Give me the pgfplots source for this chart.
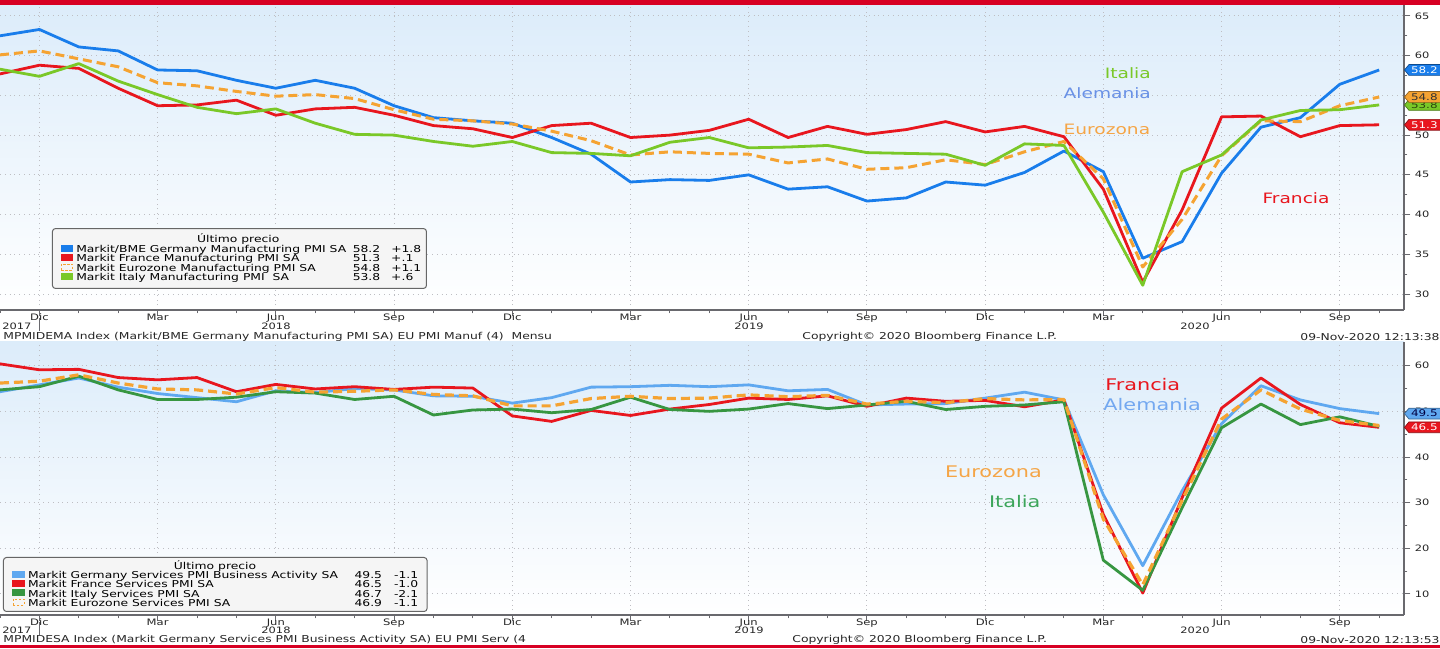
\documentclass[border=0pt]{standalone}
\usepackage{fontspec}
\setmainfont{DejaVu Sans}[FakeStretch=1.3]
\usepackage{pgfplots}
\usepackage{pgfplotstable}
\pgfplotsset{compat=1.18}
\usetikzlibrary{shapes.symbols}

\definecolor{bbred}{RGB}{215,0,35}
\definecolor{deblue}{RGB}{25,125,235}
\definecolor{frred}{RGB}{232,22,30}
\definecolor{ezorange}{RGB}{245,163,50}
\definecolor{itgreen}{RGB}{122,200,40}
\definecolor{deblue2}{RGB}{95,168,240}
\definecolor{itgreen2}{RGB}{55,150,65}
\definecolor{bgtop}{RGB}{220,236,250}
\definecolor{gridc}{RGB}{190,190,195}
\definecolor{axisc}{RGB}{105,105,110}
\definecolor{annblue}{RGB}{105,145,230}
\definecolor{annblue2}{RGB}{115,168,240}
\definecolor{annorange}{RGB}{245,165,70}
\definecolor{anngreen2}{RGB}{60,165,90}

\newcommand{\fs}[1]{\fontsize{#1}{#1}\selectfont}

\pgfplotstableread{
m de fr ez it
0 62.5 57.7 60.1 58.3
1 63.3 58.8 60.6 57.4
2 61.1 58.4 59.6 59.0
3 60.6 55.9 58.6 56.8
4 58.2 53.7 56.6 55.1
5 58.1 53.8 56.2 53.5
6 56.9 54.4 55.5 52.7
7 55.9 52.5 54.9 53.3
8 56.9 53.3 55.1 51.5
9 55.9 53.5 54.6 50.1
10 53.7 52.5 53.2 50.0
11 52.2 51.2 52.0 49.2
12 51.8 50.8 51.8 48.6
13 51.5 49.7 51.4 49.2
14 49.7 51.2 50.5 47.8
15 47.6 51.5 49.3 47.7
16 44.1 49.7 47.5 47.4
17 44.4 50.0 47.9 49.1
18 44.3 50.6 47.7 49.7
19 45.0 52.0 47.6 48.4
20 43.2 49.7 46.5 48.5
21 43.5 51.1 47.0 48.7
22 41.7 50.1 45.7 47.8
23 42.1 50.7 45.9 47.7
24 44.1 51.7 46.9 47.6
25 43.7 50.4 46.3 46.2
26 45.3 51.1 47.9 48.9
27 48.0 49.8 49.2 48.7
28 45.4 43.2 44.5 40.3
29 34.5 31.5 33.4 31.1
30 36.6 40.6 39.4 45.4
31 45.2 52.3 47.4 47.5
32 51.0 52.4 51.8 51.9
33 52.2 49.8 51.7 53.1
34 56.4 51.2 53.7 53.2
35 58.2 51.3 54.8 53.8
}\manuf

\pgfplotstableread{
m de fr it ez
0 54.3 60.4 54.7 56.2
1 55.8 59.1 55.4 56.6
2 57.3 59.2 57.7 58.0
3 55.3 57.4 54.7 56.2
4 53.9 56.9 52.6 54.9
5 53.0 57.4 52.6 54.7
6 52.1 54.3 53.1 53.8
7 54.5 55.9 54.3 55.2
8 54.1 54.9 54.0 54.2
9 55.0 55.4 52.6 54.4
10 54.7 54.8 53.3 54.7
11 53.4 55.3 49.2 53.7
12 53.3 55.1 50.3 53.4
13 51.8 49.0 50.5 51.2
14 53.0 47.8 49.7 51.2
15 55.3 50.2 50.4 52.8
16 55.4 49.1 53.1 53.3
17 55.7 50.5 50.4 52.8
18 55.4 51.5 50.0 52.9
19 55.8 52.9 50.5 53.6
20 54.5 52.6 51.7 53.2
21 54.8 53.4 50.6 53.5
22 51.4 51.1 51.4 51.6
23 51.6 52.9 52.2 52.2
24 51.7 52.2 50.4 51.9
25 52.9 52.4 51.1 52.8
26 54.2 51.0 51.4 52.5
27 52.5 52.5 52.1 52.6
28 31.7 27.4 17.4 26.4
29 16.2 10.2 10.8 12.0
30 32.6 31.1 28.9 30.5
31 47.3 50.7 46.4 48.3
32 55.6 57.3 51.6 54.7
33 52.5 51.5 47.1 50.5
34 50.6 47.5 48.8 48.0
35 49.5 46.5 46.7 46.9
}\serv

\tikzset{
  tag/.style={shape=signal, signal to=west, signal pointer angle=100, fill=#1, draw=#1!60!black,
    line width=0.35pt, inner xsep=1pt, inner ysep=0.4pt, minimum height=5.4pt, text width=22pt,
    font=\fs{4.6}, anchor=west},
}
\pgfplotsset{
  bb/.style={
    scale only axis, width=702pt, xmin=0, xmax=35.63,
    axis x line*=bottom, axis y line*=right,
    axis line style={draw=axisc, line width=0.6pt},
    xtick={1,4,...,34},
    xticklabels={Dic,Mar,Jun,Sep,Dic,Mar,Jun,Sep,Dic,Mar,Jun,Sep},
    minor xtick={0,...,35},
    tick align=outside, major tick length=3.2pt, minor tick length=1.7pt,
    tick style={draw=axisc, line width=0.5pt},
    xmajorgrids, ymajorgrids,
    major grid style={draw=gridc, dotted, line width=0.5pt},
    xticklabel style={font=\fs{4.45}, text=black!85, anchor=base, inner sep=0pt, yshift=-2pt},
    yticklabel style={font=\fs{4.4}, text=black!85, anchor=west, inner sep=0pt, xshift=2pt},
    /pgf/number format/assume math mode=true,
    axis background/.style={top color=bgtop, bottom color=white},
    clip=false,
    legend cell align=left,
    legend style={draw=black!60, fill=black!4, rounded corners=1.5pt, line width=0.5pt,
      row sep=0pt, column sep=1.6pt, inner xsep=4.1pt, anchor=south west, font=\fs{4.75}},
    legend image code/.code={\fill[##1, draw=none, solid, sharp corners] (0pt,-1.3pt) rectangle (6.2pt,2.1pt);},
  },
  ln/.style={line width=1.4pt, line join=round},
}

\begin{document}
\begin{tikzpicture}
\useasboundingbox (0pt,0pt) rectangle (720pt,324pt);
\fill[white] (0pt,0pt) rectangle (720pt,324pt);

% ---------------- top panel ----------------
\begin{axis}[bb, at={(0pt,169pt)}, anchor=south west, height=152.5pt,
  ymin=27.99, ymax=66.38, ytick={30,35,...,65}, minor y tick num=1,
  legend style={at={(0.037,0.069)}, inner ysep=3.1pt,
    nodes={inner sep=0pt, text height=4.12pt, text depth=0.63pt}}]
\addlegendimage{empty legend}
\addlegendentry{\makebox[162pt][c]{Último precio}}
\addplot[ln, color=deblue] table[x=m,y=de]{\manuf};
\addlegendentry{\makebox[139pt][l]{Markit/BME Germany Manufacturing PMI SA}\makebox[13pt][r]{58.2}\hspace{5.5pt}\makebox[13.5pt][l]{+1.8}}
\addplot[ln, color=frred] table[x=m,y=fr]{\manuf};
\addlegendentry{\makebox[139pt][l]{Markit France Manufacturing PMI SA}\makebox[13pt][r]{51.3}\hspace{5.5pt}\makebox[13.5pt][l]{+.1}}
\addplot[ln, color=ezorange, line width=1.5pt, dash pattern=on 4.5pt off 2.5pt,
  legend image code/.code={\draw[ezorange, line width=0.45pt, dash pattern=on 1.2pt off 0.8pt, sharp corners] (0.3pt,-1.1pt) rectangle (5.9pt,1.9pt);}]
  table[x=m,y=ez]{\manuf};
\addlegendentry{\makebox[139pt][l]{Markit Eurozone Manufacturing PMI SA}\makebox[13pt][r]{54.8}\hspace{5.5pt}\makebox[13.5pt][l]{+1.1}}
\addplot[ln, color=itgreen] table[x=m,y=it]{\manuf};
\addlegendentry{\makebox[139pt][l]{Markit Italy Manufacturing PMI \ SA}\makebox[13pt][r]{53.8}\hspace{5.5pt}\makebox[13.5pt][l]{+.6}}

\node[font=\fs{7.15}, text=itgreen] at (axis cs:28.62,57.82) {Italia};
\node[font=\fs{7.15}, text=annblue] at (axis cs:28.1,55.3) {Alemania};
\node[font=\fs{7.15}, text=annorange] at (axis cs:28.09,50.73) {Eurozona};
\node[font=\fs{7.15}, text=frred] at (axis cs:32.89,42.09) {Francia};

\node[tag=deblue, text=white] at (axis cs:35.63,58.2) {58.2};
\node[tag=itgreen, text=black!65!itgreen] at (axis cs:35.63,53.8) {53.8};
\node[tag=ezorange, text=black!80] at (axis cs:35.63,54.8) {54.8};
\node[tag=frred, text=white] at (axis cs:35.63,51.3) {51.3};
\end{axis}

% ---------------- bottom panel ----------------
\begin{axis}[bb, at={(0pt,16.5pt)}, anchor=south west, height=136.5pt,
  ymin=5.4, ymax=65.19, ytick={10,20,...,60}, minor y tick num=1,
  legend style={at={(0.0021,0.011)}, inner ysep=2pt, inner xsep=4.5pt,
    nodes={inner sep=0pt, text height=4.05pt, text depth=0.55pt}}]
\addlegendimage{empty legend}
\addlegendentry{\makebox[187pt][c]{Último precio}}
\addplot[ln, color=deblue2] table[x=m,y=de]{\serv};
\addlegendentry{\makebox[164pt][l]{Markit Germany Services PMI Business Activity SA}\makebox[13pt][r]{49.5}\hspace{6pt}\makebox[12pt][l]{-1.1}}
\addplot[ln, color=frred] table[x=m,y=fr]{\serv};
\addlegendentry{\makebox[164pt][l]{Markit France Services PMI SA}\makebox[13pt][r]{46.5}\hspace{6pt}\makebox[12pt][l]{-1.0}}
\addplot[ln, color=itgreen2] table[x=m,y=it]{\serv};
\addlegendentry{\makebox[164pt][l]{Markit Italy Services PMI SA}\makebox[13pt][r]{46.7}\hspace{6pt}\makebox[12pt][l]{-2.1}}
\addplot[ln, color=ezorange, line width=1.6pt, dash pattern=on 4.5pt off 2.5pt,
  legend image code/.code={\draw[ezorange, line width=0.45pt, dash pattern=on 1.2pt off 0.8pt, sharp corners] (0.3pt,-1.1pt) rectangle (5.9pt,1.9pt);}]
  table[x=m,y=ez]{\serv};
\addlegendentry{\makebox[164pt][l]{Markit Eurozone Services PMI SA}\makebox[13pt][r]{46.9}\hspace{6pt}\makebox[12pt][l]{-1.1}}

\node[font=\fs{8}, text=frred] at (axis cs:29.0,55.77) {Francia};
\node[font=\fs{8}, text=annblue2] at (axis cs:29.24,51.6) {Alemania};
\node[font=\fs{8}, text=annorange] at (axis cs:25.21,36.79) {Eurozona};
\node[font=\fs{8}, text=anngreen2] at (axis cs:25.75,30.2) {Italia};

\node[tag=deblue2, text=black!75!blue] at (axis cs:35.63,49.5) {49.5};
\node[tag=frred, text=white] at (axis cs:35.63,46.5) {46.5};
\end{axis}

% ---------------- frame texts ----------------
\fill[bbred] (0pt,321.6pt) rectangle (720pt,324pt);
\fill[bbred] (0pt,0pt) rectangle (720pt,1.5pt);

\begin{scope}[every node/.style={font=\fs{4.4}, text=black!85, inner sep=0pt}]
\node[anchor=west] at (1pt,161pt) {2017};
\node at (138pt,161pt) {2018};
\node at (374.5pt,161pt) {2019};
\node at (597.5pt,161pt) {2020};
\node[anchor=west] at (1pt,8.9pt) {2017};
\node at (138pt,8.9pt) {2018};
\node at (374.5pt,8.9pt) {2019};
\node at (597.5pt,8.9pt) {2020};
\end{scope}
\draw[axisc, line width=0.5pt] (19.7pt,165pt) -- (19.7pt,158.5pt);
\draw[axisc, line width=0.5pt] (19.7pt,13pt) -- (19.7pt,6.5pt);

\begin{scope}[every node/.style={font=\fs{4.75}, text=black!85, inner sep=0pt}]
\node[anchor=west] at (1.5pt,155.5pt) {MPMIDEMA Index (Markit/BME Germany Manufacturing PMI SA) EU PMI Manuf (4) \ Mensu};
\node[anchor=west] at (401pt,155.5pt) {Copyright© 2020 Bloomberg Finance L.P.};
\node[anchor=east] at (720pt,155.5pt) {09-Nov-2020 12:13:38};
\node[anchor=west] at (1.5pt,4pt) {MPMIDESA Index (Markit Germany Services PMI Business Activity SA) EU PMI Serv (4};
\node[anchor=west] at (396pt,4pt) {Copyright© 2020 Bloomberg Finance L.P.};
\node[anchor=east] at (720pt,4pt) {09-Nov-2020 12:13:53};
\end{scope}
\end{tikzpicture}
\end{document}
